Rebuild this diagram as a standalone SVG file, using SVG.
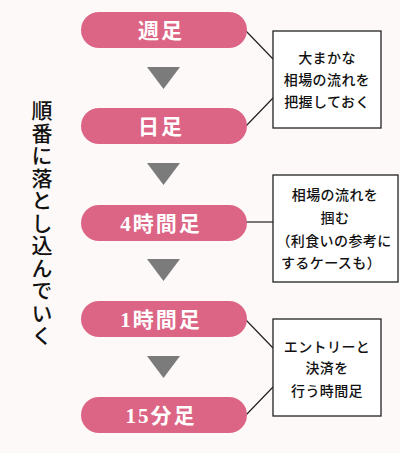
<svg xmlns="http://www.w3.org/2000/svg" width="400" height="453" viewBox="0 0 400 453">
<style>
.pill{fill:#dc6585}
.pt{fill:#fff;font-family:"Liberation Serif","Noto Sans CJK JP",serif;font-weight:bold;font-size:21px;text-anchor:middle;letter-spacing:2px}
.tri{fill:#7b7b7b}
.box{fill:#fff;stroke:#222;stroke-width:1.3}
.bt{fill:#111;font-family:"Noto Sans CJK JP",sans-serif;font-size:14px;font-weight:500;text-anchor:middle;letter-spacing:0.4px}
.ln{stroke:#222;stroke-width:1.2;fill:none}
.vt{fill:#111;font-family:"Noto Sans CJK JP",sans-serif;font-size:21px;font-weight:500;writing-mode:vertical-rl;letter-spacing:1.5px}
</style>
<rect width="400" height="453" fill="#fcf9f8"/>
<g id="connectors">
<path class="ln" d="M246,31 L273,59 M246,126 L273,98"/>
<path class="ln" d="M246,222 L273,222"/>
<path class="ln" d="M246,320 L273,348 M246,415 L273,387"/>
<polygon class="tri" points="147,67 180,67 163.5,89"/>
<polygon class="tri" points="147,163 180,163 163.5,185"/>
<polygon class="tri" points="147,259 180,259 163.5,281"/>
<polygon class="tri" points="147,356 180,356 163.5,378"/>
</g>
<g id="title"><text class="vt" x="42" y="100">順番に落とし込んでいく</text></g>
<g id="n1"><rect class="pill" x="81" y="12" width="166" height="36" rx="18"/><text class="pt" x="161" y="38">週足</text></g>
<g id="n2"><rect class="pill" x="81" y="108" width="166" height="36" rx="18"/><text class="pt" x="161" y="134">日足</text></g>
<g id="n3"><rect class="pill" x="81" y="205" width="166" height="36" rx="18"/><text class="pt" x="161" y="231">4時間足</text></g>
<g id="n4"><rect class="pill" x="81" y="301" width="166" height="36" rx="18"/><text class="pt" x="161" y="327">1時間足</text></g>
<g id="n5"><rect class="pill" x="81" y="397" width="166" height="36" rx="18"/><text class="pt" x="161" y="423">15分足</text></g>
<g id="b1"><rect class="box" x="273" y="31" width="108" height="97"/>
<text class="bt" x="327" y="63">大まかな</text><text class="bt" x="327" y="85">相場の流れを</text><text class="bt" x="327" y="107">把握しておく</text></g>
<g id="b2"><rect class="box" x="273" y="175" width="125" height="107"/>
<text class="bt" x="335" y="200">相場の流れを</text><text class="bt" x="335" y="223">掴む</text><text class="bt" x="334" y="246">（利食いの参考に</text><text class="bt" x="331" y="268">するケースも）</text></g>
<g id="b3"><rect class="box" x="273" y="319" width="108" height="97"/>
<text class="bt" x="327" y="352">エントリーと</text><text class="bt" x="327" y="373">決済を</text><text class="bt" x="327" y="396">行う時間足</text></g>
</svg>
